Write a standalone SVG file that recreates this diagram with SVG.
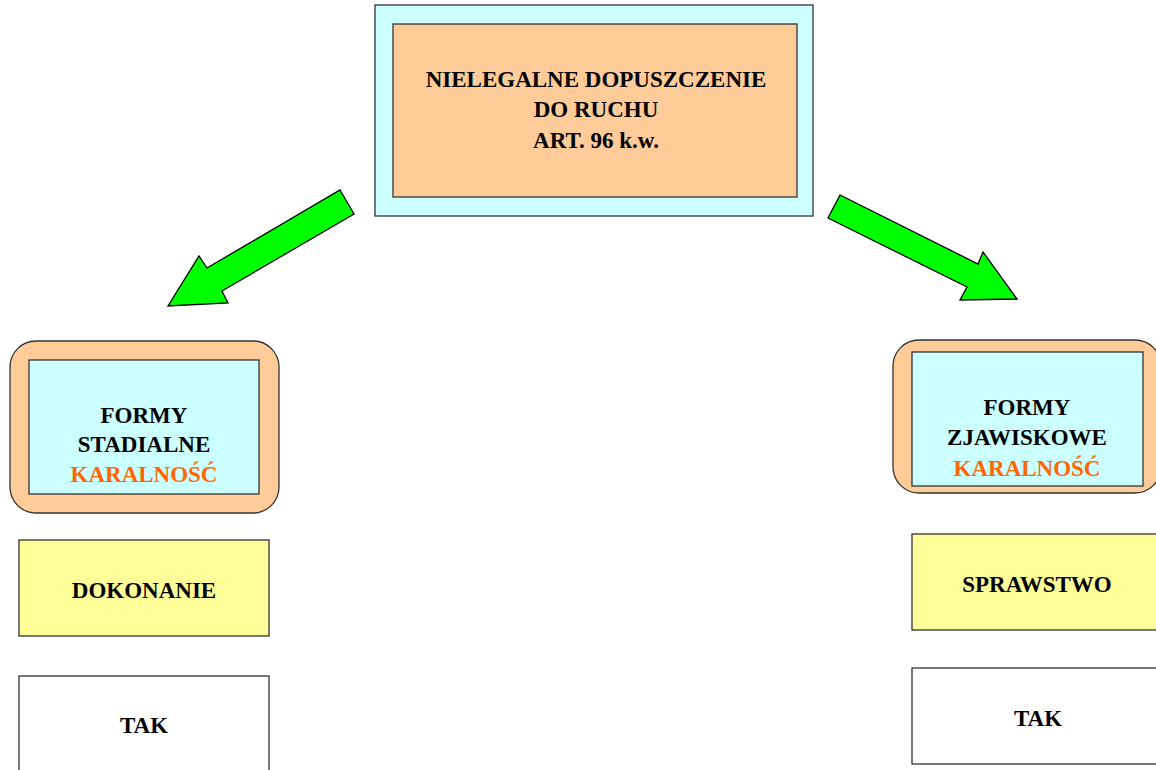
<svg xmlns="http://www.w3.org/2000/svg" width="1156" height="770" viewBox="0 0 1156 770">
<style>
.t{font-family:"Liberation Serif","DejaVu Serif",serif;font-weight:bold;font-size:23px;fill:#000;text-anchor:middle}
.o{fill:#FF6600}
.bx{stroke:#333;stroke-width:1.3}
.ar{fill:#00FF00;stroke:#000;stroke-width:1.3;stroke-linejoin:miter}
</style>
<rect width="1156" height="770" fill="#fff"/>
<g id="top">
<rect class="bx" x="375" y="5" width="438" height="211" fill="#CCFFFF"/>
<rect class="bx" x="393" y="24" width="404" height="173" fill="#FFCC99"/>
<text class="t" x="596" y="87">NIELEGALNE DOPUSZCZENIE</text>
<text class="t" x="596" y="117">DO RUCHU</text>
<text class="t" x="596" y="148">ART. 96 k.w.</text>
</g>
<g id="connectors">
<polygon class="ar" points="340,190 354,214 222,291 228,303 168,306 199,256 207,268"/>
<polygon class="ar" points="840,195 978,264 983,252 1017,299 960,300 967,287 828,218"/>
</g>
<g id="stadialne">
<rect class="bx" x="10" y="341" width="269" height="172" rx="26" fill="#FFCC99" stroke-width="1.6"/>
<rect class="bx" x="29" y="360" width="230" height="134" fill="#CCFFFF"/>
<text class="t" x="144" y="423">FORMY</text>
<text class="t" x="144" y="452">STADIALNE</text>
<text class="t o" x="144" y="482">KARALNOŚĆ</text>
</g>
<g id="zjawiskowe">
<rect class="bx" x="893" y="340" width="268" height="153" rx="26" fill="#FFCC99" stroke-width="1.6"/>
<rect class="bx" x="912" y="352" width="231" height="134" fill="#CCFFFF"/>
<text class="t" x="1027" y="415">FORMY</text>
<text class="t" x="1027" y="445">ZJAWISKOWE</text>
<text class="t o" x="1027" y="476">KARALNOŚĆ</text>
</g>
<g id="dokonanie">
<rect class="bx" x="19" y="540" width="250" height="96" fill="#FFFF99"/>
<text class="t" x="144" y="598">DOKONANIE</text>
</g>
<g id="tak-left">
<rect class="bx" x="19" y="676" width="250" height="100" fill="#fff"/>
<text class="t" x="144" y="733">TAK</text>
</g>
<g id="sprawstwo">
<rect class="bx" x="912" y="534" width="250" height="96" fill="#FFFF99"/>
<text class="t" x="1037" y="592">SPRAWSTWO</text>
</g>
<g id="tak-right">
<rect class="bx" x="912" y="668" width="250" height="96" fill="#fff"/>
<text class="t" x="1038" y="726">TAK</text>
</g>
</svg>
